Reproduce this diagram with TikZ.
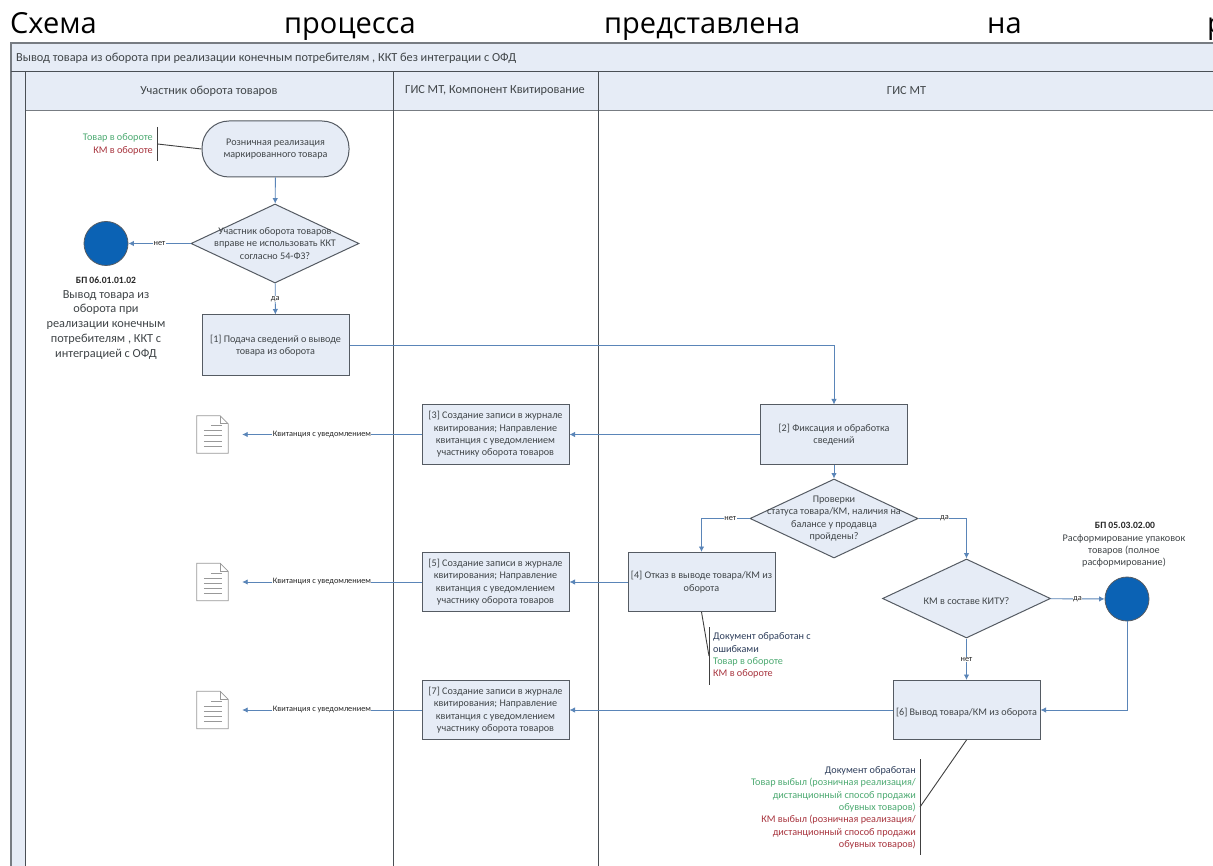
\documentclass[tikz,border=0pt]{standalone}
\usepackage{fontspec}
\setmainfont{Carlito}
\newfontfamily\headfont{Open Sans}
\usetikzlibrary{shapes.geometric,arrows.meta}
\definecolor{boxfill}{HTML}{E6ECF6}
\definecolor{boxline}{HTML}{555B63}
\definecolor{flow}{HTML}{5A85B8}
\definecolor{txt}{HTML}{404548}
\definecolor{okgreen}{HTML}{4DAA72}
\definecolor{badred}{HTML}{A8343E}
\definecolor{docnavy}{HTML}{2F3F5C}
\definecolor{disc}{HTML}{0B62B4}
\definecolor{frameline}{HTML}{4A4F55}
\definecolor{framegrey}{HTML}{777C82}
\tikzset{
  base/.style={text=txt,font=\fontsize{10.15}{12.4}\selectfont,align=center,inner sep=0pt,execute at begin node={\rule{0pt}{12pt}}},
  procbox/.style={base,draw=boxline,fill=boxfill,line width=1pt,minimum width=147pt,minimum height=59pt},
  decide/.style={draw=boxline,fill=boxfill,line width=1pt,diamond,aspect=2.13,minimum width=168pt,minimum height=79pt,inner sep=0pt},
  term/.style={base,draw=boxline,fill=boxfill,line width=1pt,rounded corners=27pt,minimum width=147pt,minimum height=56pt},
  endpoint/.style={circle,draw=boxline,fill=disc,line width=.8pt,minimum size=44pt,inner sep=0pt},
  flowline/.style={draw=flow,line width=.9pt},
  flowarrow/.style={flowline,-{Latex[length=5.5pt,width=5.5pt]}},
  conlabel/.style={text=black!85,font=\fontsize{8.3}{9}\selectfont,fill=white,inner sep=.5pt},
  hdr/.style={text=txt,font=\fontsize{12.3}{14}\selectfont,inner sep=0pt},
  note/.style={text=txt,font=\fontsize{10.2}{12.4}\selectfont,inner sep=0pt},
  headw/.style={text=black,font=\headfont\fontsize{29}{32}\selectfont,anchor=base west,inner sep=0pt},
  docbox/.style={minimum width=31pt,minimum height=37pt,inner sep=0pt},
  bracket/.style={draw=black!75,line width=.9pt},
  frame/.style={draw=frameline,line width=1pt},
  framesoft/.style={draw=framegrey,line width=1.4pt}
}
\newcommand{\docicon}[1]{%
  \draw[draw=black!40,fill=white,line width=.7pt] (#1.north west) -- ([xshift=-8pt]#1.north east) -- ([yshift=-8pt]#1.north east) -- (#1.south east) -- (#1.south west) -- cycle;
  \draw[draw=black!40,line width=.7pt] ([xshift=-8pt]#1.north east) -- ([xshift=-8pt,yshift=-8pt]#1.north east) -- ([yshift=-8pt]#1.north east);
  \foreach \dy/\dx in {-10/14,-15/7,-20/7,-25/7,-30/7}
    \draw[draw=black!40,line width=.6pt] ([xshift=\dx pt,yshift=\dy pt]#1.north west) -- ([xshift=-6.5pt,yshift=\dy pt]#1.north east);
}
\begin{document}
\begin{tikzpicture}[x=1pt,y=-1pt]
\useasboundingbox (0,0) rectangle (1213,866);
\clip (0,0) rectangle (1213,866);
\fill[white] (0,0) rectangle (1213,866);
% heading
\node[headw] (h1) at (10,34) {Схема};
\node[headw] (h2) at (284,34) {процесса};
\node[headw] (h3) at (604,34) {представлена};
\node[headw] (h4) at (987,34) {на};
\node[headw] (h5) at (1207,34) {р};
% swimlane frame
\fill[boxfill] (11,43) rectangle (1213,72);
\fill[boxfill] (11,72) rectangle (25,866);
\fill[boxfill] (25,72) rectangle (1213,111);
\draw[framesoft] (1213,43) -- (11,43) -- (11,866);
\draw[frame] (11,72) -- (1213,72);
\draw[framesoft,line width=1pt] (25,111) -- (1213,111);
\draw[frame] (25,72) -- (25,866);
\draw[frame] (393,72) -- (393,866);
\draw[frame] (598,72) -- (598,866);
\node[hdr,anchor=west] (title) at (16,58) {Вывод товара из оборота при реализации конечным потребителям , ККТ без интеграции с ОФД};
\node[hdr] (lane1) at (209,91) {Участник оборота товаров};
\node[hdr] (lane2) at (495,91) {ГИС МТ, Компонент Квитирование};
\node[hdr] (lane3) at (906.5,91) {ГИС МТ};
% nodes
\node[term] (start) at (275.5,149) {Розничная реализация\\маркированного товара};
\node[decide] (d1) at (275,243.5) {};
\node[base] (d1t) at (d1) {Участник оборота товаров\\вправе не использовать ККТ\\согласно 54-ФЗ?};
\node[endpoint] (bp1) at (106,243.5) {};
\node[procbox,minimum height=61pt] (b1) at (275.5,345.5) {[1] Подача сведений о выводе\\товара из оборота};
\node[procbox] (b2) at (834,434.5) {[2] Фиксация и обработка\\сведений};
\node[procbox] (b3) at (495.5,434.5) {[3] Создание записи в журнале\\квитирования; Направление\\квитанция с уведомлением\\участнику оборота товаров};
\node[decide] (d2) at (834,518.5) {};
\node[base] (d2t) at (d2) {Проверки\\статуса товара/КМ, наличия на\\балансе у продавца\\пройдены?};
\node[procbox] (b4) at (701.5,582) {[4] Отказ в выводе товара/КМ из\\оборота};
\node[procbox] (b5) at (495.5,582) {[5] Создание записи в журнале\\квитирования; Направление\\квитанция с уведомлением\\участнику оборота товаров};
\node[decide] (d3) at (966.5,598.5) {};
\node[base] (d3t) at (d3) {КМ в составе КИТУ?};
\node[endpoint] (bp2) at (1127,599) {};
\node[procbox] (b6) at (966.5,710) {[6] Вывод товара/КМ из оборота};
\node[procbox] (b7) at (495.5,710) {[7] Создание записи в журнале\\квитирования; Направление\\квитанция с уведомлением\\участнику оборота товаров};
\node[docbox] (doc1) at (212.5,434.5) {};
\node[docbox] (doc2) at (212.5,582) {};
\node[docbox] (doc3) at (212.5,710) {};
\docicon{doc1}\docicon{doc2}\docicon{doc3}
% connectors
\draw[flowarrow] (start) -- (d1);
\draw[flowarrow] (d1) -- node[conlabel] (lno1) {нет} (bp1);
\draw[flowarrow] (d1) -- node[conlabel,pos=.5] (lyes1) {да} (b1);
\draw[flowarrow] (b1.east) -| (b2.north);
\draw[flowarrow] (b2) -- (b3);
\draw[flowarrow,shorten >=14pt] (b3) -- node[conlabel,pos=.515] (q1) {Квитанция с уведомлением} (doc1);
\draw[flowarrow] (b2) -- (d2);
\draw[flowarrow] (d2.west) -| node[conlabel,pos=.2] (lno2) {нет} (b4.north);
\draw[flowarrow] (d2.east) -| node[conlabel,pos=.27] (lyes2) {да} (d3.north);
\draw[flowarrow] (b4) -- (b5);
\draw[flowarrow,shorten >=14pt] (b5) -- node[conlabel,pos=.515] (q2) {Квитанция с уведомлением} (doc2);
\draw[flowarrow] (d3) -- node[conlabel] (lyes3) {да} (bp2);
\draw[flowarrow] (d3) -- node[conlabel] (lno3) {нет} (b6);
\draw[flowarrow] (bp2.south) |- (b6.east);
\draw[flowarrow] (b6) -- (b7);
\draw[flowarrow,shorten >=14pt] (b7) -- node[conlabel,pos=.515] (q3) {Квитанция с уведомлением} (doc3);
% circle captions
\node[note,text=black!85,font=\fontsize{9.6}{12}\bfseries\selectfont] (bp1id) at (106,280) {БП 06.01.01.02};
\node[note,align=center,font=\fontsize{12.3}{14.8}\selectfont,anchor=north] (bp1txt) at (106,290) {Вывод товара из\\оборота при\\реализации конечным\\потребителям , ККТ с\\интеграцией с ОФД};
\node[note,text=black!85,font=\fontsize{9.6}{12}\bfseries\selectfont] (bp2id) at (1125,525) {БП 05.03.02.00};
\node[note,align=center,anchor=north] (bp2txt) at (1124,534) {Расформирование упаковок\\товаров (полное\\расформирование)};
% annotation 1
\coordinate (a1top) at (157.5,127);
\coordinate (a1bot) at (157.5,161);
\coordinate (a1mid) at (157.5,144);
\draw[bracket] (a1top) -- (a1bot);
\draw[bracket] (a1mid) -- (start.west);
\node[note,anchor=east,text=okgreen] (a1a) at (153,138) {Товар в обороте};
\node[note,anchor=east,text=badred] (a1b) at (153,151) {КМ в обороте};
% annotation 4
\coordinate (a4top) at (709,627);
\coordinate (a4bot) at (709,685);
\coordinate (a4mid) at (709,656);
\draw[bracket] (a4top) -- (a4bot);
\draw[bracket] (b4.south) -- (a4mid);
\node[note,anchor=west,text=docnavy] (a4a) at (713,637) {Документ обработан с};
\node[note,anchor=west,text=docnavy] (a4b) at (713,649.5) {ошибками};
\node[note,anchor=west,text=okgreen] (a4c) at (713,662) {Товар в обороте};
\node[note,anchor=west,text=badred] (a4d) at (713,674) {КМ в обороте};
% annotation 6
\coordinate (a6top) at (920,759);
\coordinate (a6bot) at (920,855);
\coordinate (a6mid) at (920,807);
\draw[bracket] (a6top) -- (a6bot);
\draw[bracket] (b6.south) -- (a6mid);
\node[note,anchor=east,text=docnavy] (a6a) at (916,770.5) {Документ обработан};
\node[note,anchor=east,text=okgreen] (a6b) at (916,783) {Товар выбыл (розничная реализация/};
\node[note,anchor=east,text=okgreen] (a6c) at (916,795.5) {дистанционный способ продажи};
\node[note,anchor=east,text=okgreen] (a6d) at (916,807.5) {обувных товаров)};
\node[note,anchor=east,text=badred] (a6e) at (916,820) {КМ выбыл (розничная реализация/};
\node[note,anchor=east,text=badred] (a6f) at (916,832.5) {дистанционный способ продажи};
\node[note,anchor=east,text=badred] (a6g) at (916,845) {обувных товаров)};
\end{tikzpicture}
\end{document}
